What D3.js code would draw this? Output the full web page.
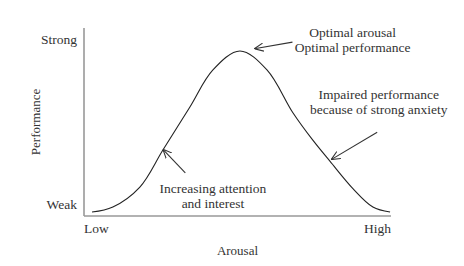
<!DOCTYPE html>
<html>
<head>
<meta charset="utf-8">
<script src="https://cdn.jsdelivr.net/npm/d3@7"></script>
<style>
  body { margin: 0; background: white; }
  svg text { font-family: "Liberation Serif", "DejaVu Serif", serif; fill: #333; }
</style>
</head>
<body>
<div id="chart"></div>
<script>
// Datos: curva de Yerkes-Dodson (activación vs rendimiento), 0-100 en ambos ejes
var arousal     = [2.6, 9.4, 18.2, 25.7, 34.5, 42, 50.8, 59.6, 68.1, 74.6, 80.1, 87.6, 94.1, 99.7];
var performance = [2.1, 4.8, 15.4, 35.1, 58, 77.7, 87.8, 77.7, 54.8, 40.2, 29.2, 14.6, 4.8, 2.1];

var xTickValues = [0, 100];
var xTickLabels = ["Low", "High"];
var yTickValues = [6.4, 94.1];
var yTickLabels = ["Weak", "Strong"];

// anotaciones: texto, centro del texto y punta de la flecha (unidades de datos)
var noteLines = [
  ["Optimal arousal", "Optimal performance"],
  ["Impaired performance", "because of strong anxiety"],
  ["Increasing attention", "and interest"]
];
var noteTextX = [87.5, 96, 42];
var noteTextY = [95, 62, 12.5];
var noteFromX = [67.9, 95.5, 33];
var noteFromY = [92.5, 44.5, 23];
var noteToX   = [55.5, 80.5, 25.7];
var noteToY   = [89, 30, 35.5];

var width = 464, height = 266;
var margin = { top: 28, right: 73, bottom: 50, left: 84 };

var svg = d3.select("#chart").append("svg")
  .attr("width", width)
  .attr("height", height);

var x = d3.scaleLinear().domain([0, 100]).range([margin.left, width - margin.right]);
var y = d3.scaleLinear().domain([0, 100]).range([height - margin.bottom, margin.top]);

// punta de flecha abierta
svg.append("defs").append("marker")
  .attr("id", "flecha")
  .attr("viewBox", "0 0 10 10")
  .attr("refX", 10).attr("refY", 5)
  .attr("markerWidth", 9).attr("markerHeight", 9)
  .attr("markerUnits", "userSpaceOnUse")
  .attr("orient", "auto")
  .append("path")
  .attr("d", "M0,0.5 L10,5 L0,9.5")
  .attr("fill", "none")
  .attr("stroke", "#333")
  .attr("stroke-width", 1.2);

// ejes
svg.append("line")
  .attr("x1", x(0)).attr("x2", x(0))
  .attr("y1", y(100)).attr("y2", y(0))
  .attr("stroke", "#999").attr("stroke-width", 1.6);
svg.append("line")
  .attr("x1", x(0)).attr("x2", x(100))
  .attr("y1", y(0)).attr("y2", y(0))
  .attr("stroke", "#999").attr("stroke-width", 1.6);

svg.selectAll(".ylab")
  .data(yTickValues)
  .enter().append("text")
  .attr("class", "ylab")
  .attr("x", x(0) - 7)
  .attr("y", function (d) { return y(d); })
  .attr("dy", "0.35em")
  .attr("text-anchor", "end")
  .style("font-size", "13.5px")
  .text(function (d, i) { return yTickLabels[i]; });

svg.selectAll(".xlab")
  .data(xTickValues)
  .enter().append("text")
  .attr("class", "xlab")
  .attr("x", function (d) { return x(d); })
  .attr("y", y(0) + 17)
  .attr("text-anchor", function (d, i) { return i == 0 ? "start" : "end"; })
  .style("font-size", "13.5px")
  .text(function (d, i) { return xTickLabels[i]; });

svg.append("text")
  .attr("x", x(50))
  .attr("y", height - 11)
  .attr("text-anchor", "middle")
  .style("font-size", "13px")
  .text("Arousal");

svg.append("text")
  .attr("transform", "translate(40," + y(50) + ") rotate(-90)")
  .attr("text-anchor", "middle")
  .style("font-size", "13px")
  .text("Performance");

// curva
var line = d3.line()
  .x(function (d, i) { return x(arousal[i]); })
  .y(function (d) { return y(d); })
  .curve(d3.curveCatmullRom);

svg.append("path")
  .datum(performance)
  .attr("fill", "none")
  .attr("stroke", "#222")
  .attr("stroke-width", 1.1)
  .attr("d", line);

// anotaciones
noteLines.forEach(function (lines, i) {
  svg.append("line")
    .attr("x1", x(noteFromX[i])).attr("y1", y(noteFromY[i]))
    .attr("x2", x(noteToX[i])).attr("y2", y(noteToY[i]))
    .attr("stroke", "#333")
    .attr("stroke-width", 1.1)
    .attr("marker-end", "url(#flecha)");

  var t = svg.append("text")
    .attr("x", x(noteTextX[i]))
    .attr("y", y(noteTextY[i]))
    .attr("text-anchor", "middle")
    .style("font-size", "13.5px");
  t.selectAll("tspan")
    .data(lines)
    .enter().append("tspan")
    .attr("x", x(noteTextX[i]))
    .attr("dy", function (d, j) { return j == 0 ? 0 : 15; })
    .text(function (d) { return d; });
});
</script>
</body>
</html>
